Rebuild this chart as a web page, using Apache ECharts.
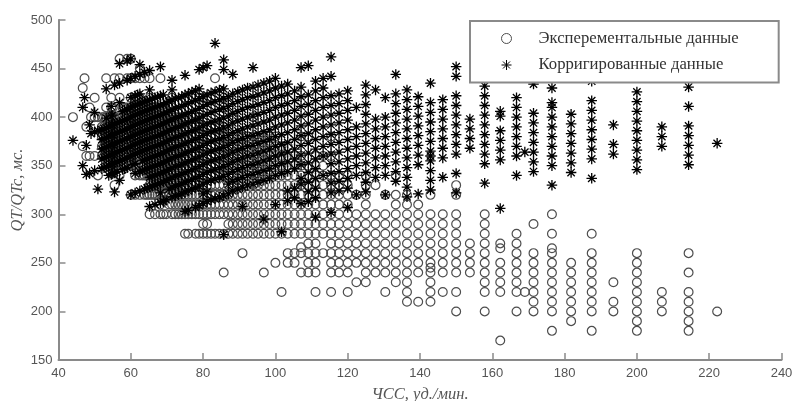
<!DOCTYPE html>
<html>
<head>
<meta charset="utf-8">
<script src="https://cdn.jsdelivr.net/npm/echarts@6/dist/echarts.min.js"></script>
<style>html,body{margin:0;padding:0;background:#fff}#c{width:795px;height:401px}</style>
</head>
<body>
<div id="c"></div>
<script>
const xTicks = [40,60,80,100,120,140,160,180,200,220,240];
const yTicks = [150,200,250,300,350,400,450,500];
const seriesNames = ['Эксперементальные данные','Корригированные данные'];
const xTitle = 'ЧСС, уд./мин.';
const yTitle = 'QT/QTc, мс.';

// each column: [heart rate, value, value, ...]
const measuredColumns = [
[44,400],[46.7,430,370],[47.2,440],[47.7,390,360],[48.6,410,360],[49,400],[50,420,400,360],[50.9,400,340],
[52,400,390,380,370,360],
[52.6,400,390,380,370,360],
[53.2,440,410,400,390,380,370,360],
[53.9,400,390,380,370,360,350],
[54.6,420,410,400,390,380,370,360,350],
[55,410,400,390,380,370,360,350],
[55.5,440,400,390,380,370,360,350,330],
[56.2,400,390,380,370,360,350],
[56.9,460,440,420,400,390,380,370,360,340],
[57.7,410,400,390,380,370,360,350],
[58.3,410,400,390,380,370,360,350],
[59,460,440,410,400,390,380,370,360,350],
[60,460,440,420,410,400,390,380,370,360,320],
[60.6,410,400,390,380,370,360,350],
[61.2,440,420,410,400,390,380,370,360,350,340,320],
[61.9,420,410,400,390,380,370,360],
[62.5,450,440,420,410,400,390,380,370,360,340,320],
[63.2,410,400,390,380,370,360,350,340],
[63.8,440,410,400,390,380,370,360,350,340,320],
[64.5,410,400,390,380,370,360,350,340,320],
[65.2,440,420,410,400,390,380,370,360,350,340,330,320,300],
[65.9,410,400,390,380,370,360,350,340,330,320],
[66.7,410,400,390,380,370,360,350,340,330,320,300],
[67.4,410,400,390,380,370,360,350,340,330,320],
[68.2,440,410,400,390,380,370,360,350,340,330,320,310,300],
[69,410,400,390,380,370,360,350,340,330,320,300],
[69.8,400,390,380,370,360,350,340,330,320,300],
[70.6,400,390,380,370,360,350,340,330,320,310],
[71.4,420,410,400,390,380,370,360,350,340,330,320,310,300],
[72.3,400,390,380,370,360,350,340,330,320,310,300],
[73.2,400,390,380,370,360,350,340,330,320,310,300],
[74.1,400,390,380,370,360,350,340,330,320,310,300],
[75,420,400,390,380,370,360,350,340,330,320,310,300,280],
[75.9,400,390,380,370,360,350,340,330,320,310,300,280],
[76.9,400,390,380,370,360,350,340,330,320,310,300],
[77.9,400,390,380,370,360,350,340,330,320,310,300,280],
[78.9,420,400,390,380,370,360,350,340,330,320,310,300,280],
[80,420,390,380,370,360,350,340,330,320,310,300,290,280],
[81.1,420,390,380,370,360,350,340,330,320,310,300,290,280],
[82.2,390,380,370,360,350,340,330,320,310,300,280],
[83.3,440,390,380,370,360,350,340,330,320,310,300,280],
[84.5,390,380,370,360,350,340,330,320,310,300,280],
[85.7,420,410,390,380,370,360,350,340,330,320,310,300,280,240],
[87,380,370,360,350,340,330,320,310,300,290,280],
[88.2,400,380,370,360,350,340,330,320,310,300,290,280],
[89.6,380,370,360,350,340,330,320,310,300,290,280],
[90.9,380,370,360,350,340,330,320,310,300,290,280,260],
[92.3,380,370,360,350,340,330,320,310,300,290,280],
[93.8,400,380,370,360,350,340,330,320,310,300,290,280],
[95.2,380,370,360,350,340,330,320,310,300,290,280],
[96.8,380,370,360,350,340,330,320,310,300,290,280,240],
[98.4,380,370,360,350,340,330,320,310,300,290,280],
[100,380,370,360,350,340,330,320,310,300,290,280,250],
[101.7,370,360,350,340,330,320,310,300,290,280,220],
[103.4,370,360,350,340,330,320,310,300,290,280,260,250],
[105.3,360,350,340,330,320,310,300,290,280,260,250],
[107.1,380,360,350,340,330,320,310,300,290,280,266,260,240],
[109.1,380,350,340,330,320,310,300,290,280,270,260,250,240],
[111.1,360,350,340,330,320,310,300,290,280,270,260,250,240,220],
[113.2,360,350,340,330,320,310,300,290,280,260],
[115.4,380,360,340,330,320,310,300,290,280,270,260,250,240,220],
[117.6,340,330,320,310,300,290,280,270,260,250,240],
[120,340,330,320,310,300,290,280,270,260,250,240,220],
[122.4,320,300,290,280,270,260,250,230],
[125,340,330,320,310,300,290,280,270,260,250,240,230],
[127.7,330,300,290,280,270,260,250,240],
[130.4,320,300,290,280,270,260,250,240,220],
[133.3,340,320,310,300,290,280,270,260,250,240,230],
[136.4,320,310,300,290,280,270,260,250,240,230,220,210],
[139.5,310,300,290,280,270,260,250,240,210],
[142.9,320,300,290,280,270,260,250,245,240,230,220,210],
[146.3,300,290,280,270,260,250,240,220],
[150,330,320,300,290,280,270,260,250,240,220,200],
[153.8,270,260,250,240],
[157.9,300,290,280,270,260,250,240,230,220,200],
[162.2,270,265,250,240,230,220,170],
[166.7,280,270,260,250,240,230,220,200],
[169,220],
[171.4,290,260,250,240,230,220,210,200],
[176.5,300,280,265,260,250,240,230,220,210,200,180],
[181.8,250,240,230,220,210,200,190],
[187.5,280,260,250,240,230,220,210,200,180],
[193.5,230,210,200],
[200,260,250,240,230,220,210,200,190,180],
[206.9,220,210,200],
[214.3,260,240,220,210,200,190,180],
[222.2,200]
];

const correctedColumns = [
[44,376],[46.7,410,350],[47.2,420],[47.7,371,341],[48.6,392,342],[49,383],[50,405,385,345],[50.9,386,326],
[52,387,377,367,357,347],
[52.6,388,378,368,358,348],
[53.2,429,399,389,379,369,359,349],
[53.9,390,380,370,360,350,340],
[54.6,411,401,391,381,371,361,351,341],
[55,402,392,382,372,362,352,342],
[55.5,433,393,383,373,363,353,343,323],
[56.2,394,384,374,364,354,344],
[56.9,455,435,415,395,385,375,365,355,335],
[57.7,406,396,386,376,366,356,346],
[58.3,407,397,387,377,367,357,347],
[59,458,438,408,398,388,378,368,358,348],
[60,460,440,420,410,400,390,380,370,360,320],
[60.6,411,401,391,381,371,361,351],
[61.2,442,422,412,402,392,382,372,362,352,342,322],
[61.9,423,413,403,393,383,373,363],
[62.5,454,444,424,414,404,394,384,374,364,344,324],
[63.2,415,405,395,385,375,365,355,345],
[63.8,446,416,406,396,386,376,366,356,346,326],
[64.5,417,407,397,387,377,367,357,347,327],
[65.2,448,428,418,408,398,388,378,368,358,348,338,328,308],
[65.9,419,409,399,389,379,369,359,349,339,329],
[66.7,420,410,400,390,380,370,360,350,340,330,310],
[67.4,421,411,401,391,381,371,361,351,341,331],
[68.2,452,422,412,402,392,382,372,362,352,342,332,322,312],
[69,423,413,403,393,383,373,363,353,343,333,313],
[69.8,415,405,395,385,375,365,355,345,335,315],
[70.6,416,406,396,386,376,366,356,346,336,326],
[71.4,438,428,418,408,398,388,378,368,358,348,338,328,318],
[72.3,419,409,399,389,379,369,359,349,339,329,319],
[73.2,420,410,400,390,380,370,360,350,340,330,320],
[74.1,421,411,401,391,381,371,361,351,341,331,321],
[75,443,423,413,403,393,383,373,363,353,343,333,323,303],
[75.9,424,414,404,394,384,374,364,354,344,334,324,304],
[76.9,426,416,406,396,386,376,366,356,346,336,326],
[77.9,427,417,407,397,387,377,367,357,347,337,327,307],
[78.9,449,429,419,409,399,389,379,369,359,349,339,329,309],
[80,451,421,411,401,391,381,371,361,351,341,331,321,311],
[81.1,453,423,413,403,393,383,373,363,353,343,333,323,313],
[82.2,425,415,405,395,385,375,365,355,345,335,315],
[83.3,476,426,416,406,396,386,376,366,356,346,336,316],
[84.5,428,418,408,398,388,378,368,358,348,338,318],
[85.7,459,449,429,419,409,399,389,379,369,359,349,339,319,279],
[87,421,411,401,391,381,371,361,351,341,331,321],
[88.2,444,424,414,404,394,384,374,364,354,344,334,324],
[89.6,426,416,406,396,386,376,366,356,346,336,326],
[90.9,428,418,408,398,388,378,368,358,348,338,328,308],
[92.3,430,420,410,400,390,380,370,360,350,340,330],
[93.8,451,431,421,411,401,391,381,371,361,351,341,331],
[95.2,433,423,413,403,393,383,373,363,353,343,333],
[96.8,435,425,415,405,395,385,375,365,355,345,335,295],
[98.4,437,427,417,407,397,387,377,367,357,347,337],
[100,440,430,420,410,400,390,380,370,360,350,340,310],
[101.7,432,422,412,402,392,382,372,362,352,342,282],
[103.4,434,424,414,404,394,384,374,364,354,344,324,314],
[105.3,427,417,407,397,387,377,367,357,347,327,317],
[107.1,451,431,421,411,401,391,381,371,361,351,337,331,311],
[109.1,453,423,413,403,393,383,373,363,353,343,333,323,313],
[111.1,437,427,417,407,397,387,377,367,357,347,337,327,317,297],
[113.2,440,430,420,410,400,390,380,370,360,340],
[115.4,462,442,422,412,402,392,382,372,362,352,342,332,322,302],
[117.6,424,414,404,394,384,374,364,354,344,334,324],
[120,427,417,407,397,387,377,367,357,347,337,327,307],
[122.4,410,390,380,370,360,350,340,320],
[125,433,423,413,403,393,383,373,363,353,343,333,323],
[127.7,428,398,388,378,368,358,348,338],
[130.4,420,400,390,380,370,360,350,340,320],
[133.3,444,424,414,404,394,384,374,364,354,344,334],
[136.4,428,418,408,398,388,378,368,358,348,338,328,318],
[139.5,421,411,401,391,381,371,361,351,321],
[142.9,435,415,405,395,385,375,365,360,355,345,335,325],
[146.3,418,408,398,388,378,368,358,338],
[150,452,442,422,412,402,392,382,372,362,342,322],
[153.8,398,388,378,368],
[157.9,432,422,412,402,392,382,372,362,352,332],
[162.2,406,401,386,376,366,356,306],
[166.7,420,410,400,390,380,370,360,340],
[169,364],
[171.4,434,404,394,384,374,364,354,344],
[176.5,450,430,415,410,400,390,380,370,360,350,330],
[181.8,403,393,383,373,363,353,343],
[187.5,437,417,407,397,387,377,367,357,337],
[193.5,392,372,362],
[200,426,416,406,396,386,376,366,356,346],
[206.9,390,380,370],
[214.3,431,411,391,381,371,361,351],
[222.2,373]
];

const toPoints = cols => cols.flatMap(c => c.slice(1).map(v => [c[0], v]));
const starPath = 'path://M5 0L5 10M0 5L10 5M1.5 1.5L8.5 8.5M1.5 8.5L8.5 1.5';
const axisGrey = '#8a8a8a';
const labelGrey = '#555';

const chart = echarts.init(document.getElementById('c'), null, {renderer:'canvas'});
chart.setOption({
  animation:false,
  backgroundColor:'#fff',
  grid:{left:58.5,right:13.5,top:20,bottom:41,outerBoundsMode:'none'},
  xAxis:{
    type:'value',min:xTicks[0],max:xTicks[xTicks.length-1],interval:20,
    name:xTitle,nameLocation:'middle',nameGap:26,nameMoveOverlap:false,
    nameTextStyle:{fontFamily:'Liberation Serif',fontStyle:'italic',fontSize:16.5,color:labelGrey},
    splitLine:{show:false},
    axisLine:{lineStyle:{color:axisGrey,width:2}},
    axisTick:{inside:true,length:7,lineStyle:{color:axisGrey,width:1.5}},
    axisLabel:{fontFamily:'Liberation Sans',fontSize:13,color:labelGrey,margin:7}
  },
  yAxis:{
    type:'value',min:yTicks[0],max:yTicks[yTicks.length-1],interval:50,
    name:yTitle,nameLocation:'middle',nameGap:32,nameRotate:90,nameMoveOverlap:false,
    nameTextStyle:{fontFamily:'Liberation Serif',fontStyle:'italic',fontSize:16.5,color:labelGrey},
    splitLine:{show:false},
    axisLine:{show:true,lineStyle:{color:axisGrey,width:2}},
    axisTick:{show:true,inside:true,length:7,lineStyle:{color:axisGrey,width:1.5}},
    axisLabel:{fontFamily:'Liberation Sans',fontSize:13,color:labelGrey,margin:6}
  },
  legend:{
    left:470,top:21,orient:'vertical',
    padding:[9,40,9,31],itemGap:9.5,itemWidth:30,itemHeight:10,
    backgroundColor:'#fff',borderColor:axisGrey,borderWidth:2,
    itemStyle:{borderWidth:1},
    textStyle:{fontFamily:'Liberation Serif',fontSize:16.7,color:'#333',padding:[0,0,0,12]},
    data:[seriesNames[0],seriesNames[1]]
  },
  series:[
    {name:seriesNames[0],type:'scatter',symbol:'circle',symbolSize:8.8,
     itemStyle:{color:'transparent',borderColor:'#4d4d4d',borderWidth:1.2,opacity:1},
     data:toPoints(measuredColumns),z:2},
    {name:seriesNames[1],type:'scatter',symbol:starPath,symbolSize:10.5,
     itemStyle:{color:'transparent',borderColor:'#000',borderWidth:1.3,opacity:1},
     data:toPoints(correctedColumns),z:3}
  ]
});
</script>
</body>
</html>
